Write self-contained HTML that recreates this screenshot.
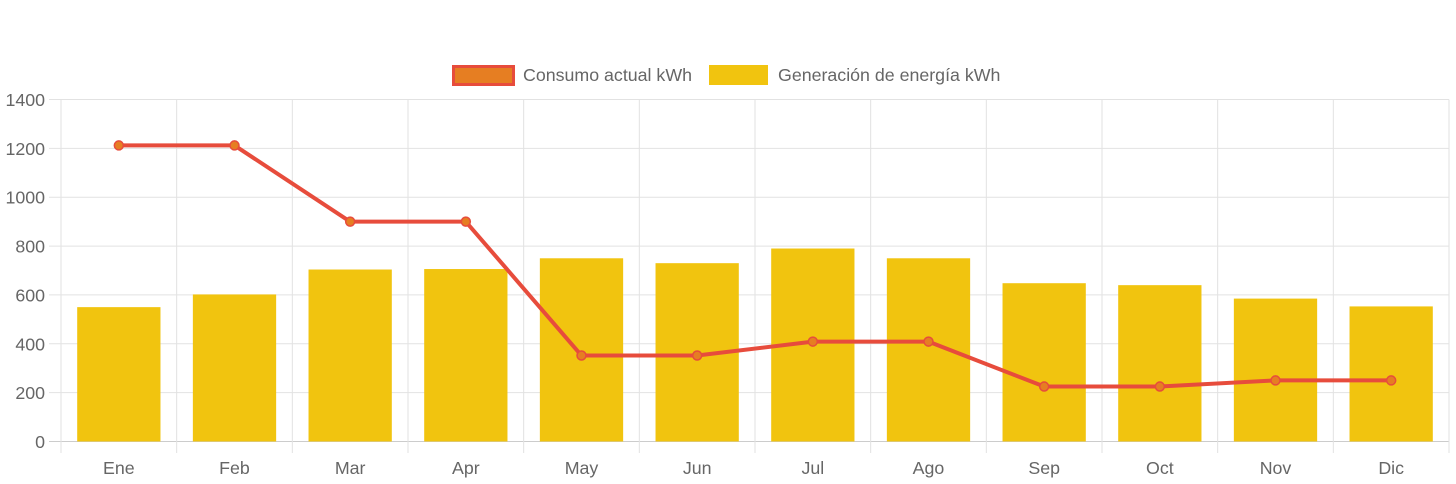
<!DOCTYPE html>
<html><head><meta charset="utf-8"><style>
html,body{margin:0;padding:0;background:#fff;width:1456px;height:484px;overflow:hidden}
svg text{font-family:"Liberation Sans",Arial,sans-serif;fill:#666}
</style></head><body>
<svg id="chart" width="1456" height="484" xmlns="http://www.w3.org/2000/svg">
<g id="legend">
<g>
<rect x="453.5" y="66.5" width="60" height="18" fill="#e67e22" stroke="#e74c3c" stroke-width="3"/>
<text x="523" y="81" font-size="17.8">Consumo actual kWh</text></g>
<g>
<rect x="709" y="65" width="59" height="20" fill="#f1c40f"/>
<text x="778" y="81" font-size="17.8">Generación de energía kWh</text></g>
</g>
<g id="grid"></g><g id="bars"></g><g id="line"></g><g id="axes"></g>
</svg>
<script>
const categories=["Ene","Feb","Mar","Apr","May","Jun","Jul","Ago","Sep","Oct","Nov","Dic"];
const generacion=[550,602,704,706,750,730,790,750,648,640,585,553];
const consumo=[1212,1212,900,900,352,352,409,409,225,225,250,250];
const yTicks=[0,200,400,600,800,1000,1200,1400];
const NS="http://www.w3.org/2000/svg";
const L=61,R=1449,T=99.5,B=441.5,YMAX=1400;
const bw=(R-L)/categories.length;
const y=v=>B-(v/YMAX)*(B-T);
const xc=i=>L+bw*(i+0.5);
function mk(tag,attrs,parent){const e=document.createElementNS(NS,tag);for(const k in attrs)e.setAttribute(k,attrs[k]);parent.appendChild(e);return e;}
const grid=document.getElementById('grid'),bars=document.getElementById('bars'),line=document.getElementById('line'),axes=document.getElementById('axes');
yTicks.forEach(t=>{
 const g=mk('line',{x1:49,x2:R,y1:y(t),y2:y(t),stroke:t===0?'#ccc':'#e2e2e2','stroke-width':1},grid);
 
 
 const tx=mk('text',{x:45,y:y(t)+6.5,'text-anchor':'end','font-size':17.8},axes);
 tx.textContent=t;
 
 
});
for(let i=0;i<=categories.length;i++){
 const x=L+bw*i;
 const g=mk('line',{x1:x,x2:x,y1:T,y2:453,stroke:'#e2e2e2','stroke-width':1},grid);
 
 
}
categories.forEach((c,i)=>{
 const w=bw*0.72;
 const b=mk('rect',{x:xc(i)-w/2,y:y(generacion[i]),width:w,height:B-y(generacion[i]),fill:'#f1c40f'},bars);
 
 
 const t=mk('text',{x:xc(i),y:474,'text-anchor':'middle','font-size':17.8},axes);
 t.textContent=c;
 
 
});
const pl=mk('polyline',{points:consumo.map((v,i)=>xc(i)+','+y(v)).join(' '),fill:'none',stroke:'#e74c3c','stroke-width':4,'stroke-linejoin':'round'},line);


consumo.forEach((v,i)=>{
 const p=mk('circle',{cx:xc(i),cy:y(v),r:4.5,fill:'#e67e22',stroke:'#e74c3c','stroke-width':1.5},line);
 
 
});
</script>
</body></html>
